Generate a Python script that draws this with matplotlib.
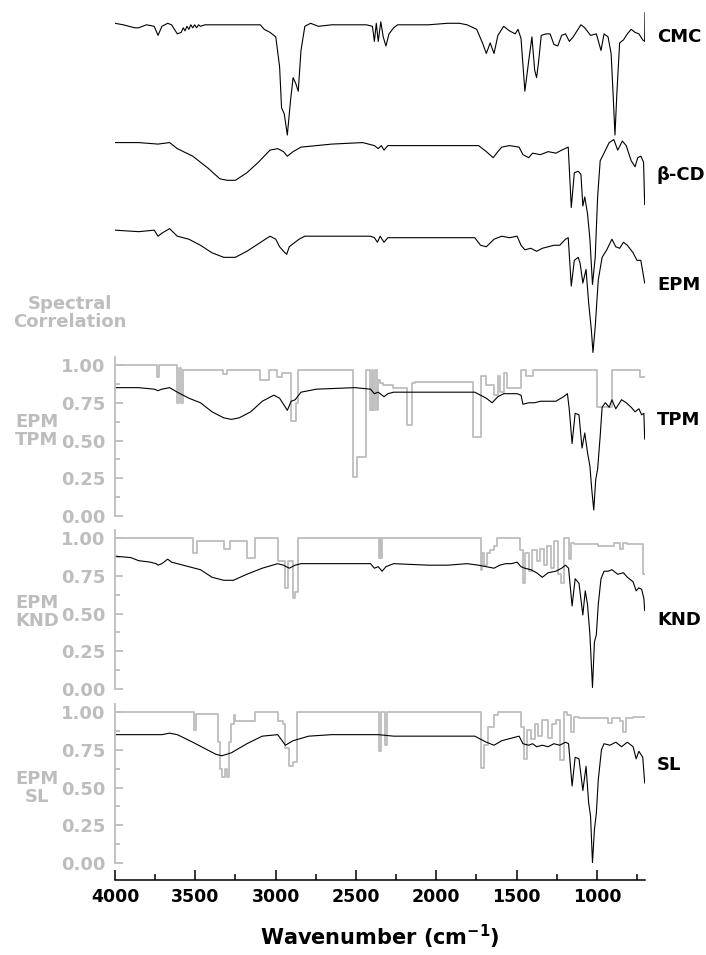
"FTIR spectra of CMC, beta-CD and the EPM/TPM/KND/SL products with spectral correlation traces"

import numpy as np
import matplotlib.pyplot as plt
from matplotlib.ticker import MultipleLocator, FormatStrFormatter

plt.rcParams['font.family'] = ['DejaVu Sans']
plt.rcParams['font.weight'] = 'bold'
plt.rcParams['mathtext.default'] = 'bf'

GREY = '#bdbdbd'

# ---- reference spectra (wavenumber cm-1, normalised transmittance) ----
cmc_wn = [4000, 3949, 3877, 3853, 3804, 3756, 3732, 3708, 3672, 3648, 3612, 3588, 3575,
          3564, 3552, 3540, 3528, 3516, 3504, 3492, 3480, 3468, 3440, 3371, 3095, 3071,
          3035, 2999, 2975, 2963, 2946, 2927, 2907, 2891, 2874, 2859, 2842, 2818, 2782,
          2734, 2650, 2434, 2397, 2385, 2373, 2361, 2345, 2330, 2313, 2294, 2265, 2241,
          2049, 1929, 1856, 1808, 1748, 1712, 1688, 1664, 1640, 1616, 1580, 1544, 1508,
          1491, 1472, 1448, 1423, 1404, 1387, 1375, 1363, 1346, 1315, 1291, 1267, 1243,
          1219, 1195, 1171, 1147, 1099, 1075, 1039, 1003, 974, 955, 930, 911, 899, 887,
          875, 858, 834, 810, 786, 762, 738, 714, 702, 700]
cmc_t = [0.86, 0.85, 0.83, 0.83, 0.85, 0.84, 0.78, 0.84, 0.86, 0.85, 0.79, 0.80, 0.83,
         0.81, 0.84, 0.82, 0.85, 0.83, 0.85, 0.83, 0.85, 0.84, 0.85, 0.85, 0.85, 0.82,
         0.80, 0.77, 0.57, 0.30, 0.26, 0.12, 0.35, 0.50, 0.46, 0.41, 0.68, 0.84, 0.86,
         0.84, 0.85, 0.85, 0.84, 0.74, 0.86, 0.74, 0.87, 0.77, 0.71, 0.79, 0.83, 0.85,
         0.85, 0.86, 0.86, 0.85, 0.82, 0.73, 0.66, 0.73, 0.66, 0.78, 0.84, 0.81, 0.79,
         0.82, 0.76, 0.41, 0.62, 0.77, 0.55, 0.50, 0.60, 0.78, 0.79, 0.79, 0.72, 0.71,
         0.78, 0.79, 0.74, 0.77, 0.85, 0.83, 0.78, 0.79, 0.68, 0.79, 0.77, 0.66, 0.40,
         0.12, 0.40, 0.73, 0.75, 0.79, 0.82, 0.80, 0.79, 0.75, 0.74, 0.93]

bcd_wn = [4000, 3853, 3732, 3660, 3612, 3516, 3420, 3347, 3299, 3251, 3179, 3107, 3035,
          2987, 2951, 2927, 2891, 2842, 2746, 2650, 2458, 2385, 2361, 2342, 2325, 2301,
          2265, 2049, 1736, 1688, 1645, 1616, 1592, 1544, 1484, 1460, 1424, 1400, 1351,
          1303, 1255, 1219, 1178, 1159, 1140, 1116, 1099, 1087, 1075, 1058, 1043, 1027,
          1010, 995, 979, 955, 923, 894, 870, 841, 817, 786, 762, 745, 726, 709, 702]
bcd_t = [0.97, 0.97, 0.96, 0.97, 0.93, 0.88, 0.80, 0.73, 0.72, 0.72, 0.77, 0.84, 0.92,
         0.93, 0.91, 0.88, 0.91, 0.94, 0.95, 0.96, 0.97, 0.95, 0.93, 0.95, 0.92, 0.95,
         0.95, 0.95, 0.95, 0.91, 0.87, 0.91, 0.94, 0.95, 0.94, 0.89, 0.87, 0.90, 0.89,
         0.91, 0.90, 0.92, 0.94, 0.54, 0.77, 0.78, 0.76, 0.55, 0.61, 0.50, 0.33, 0.03,
         0.21, 0.61, 0.85, 0.90, 0.97, 0.99, 0.92, 0.98, 0.95, 0.85, 0.81, 0.87, 0.88,
         0.84, 0.56]

epm_wn = [4000, 3853, 3756, 3732, 3708, 3660, 3612, 3540, 3468, 3396, 3323, 3251, 3179,
          3107, 3035, 2999, 2975, 2951, 2931, 2915, 2891, 2854, 2818, 2722, 2409, 2385,
          2366, 2349, 2325, 2301, 2265, 2049, 1760, 1724, 1688, 1640, 1592, 1544, 1496,
          1472, 1448, 1411, 1375, 1339, 1303, 1267, 1231, 1195, 1178, 1159, 1140, 1116,
          1104, 1087, 1067, 1051, 1034, 1024, 1010, 991, 967, 938, 906, 882, 858, 834,
          810, 774, 750, 726, 702]
epm_t = [0.84, 0.83, 0.84, 0.80, 0.82, 0.85, 0.80, 0.78, 0.74, 0.69, 0.66, 0.66, 0.70,
         0.75, 0.80, 0.78, 0.73, 0.70, 0.68, 0.73, 0.75, 0.78, 0.80, 0.80, 0.80, 0.79,
         0.76, 0.80, 0.76, 0.79, 0.79, 0.79, 0.79, 0.74, 0.73, 0.78, 0.80, 0.79, 0.80,
         0.74, 0.71, 0.72, 0.70, 0.72, 0.73, 0.74, 0.74, 0.78, 0.79, 0.47, 0.64, 0.66,
         0.62, 0.49, 0.58, 0.36, 0.18, 0.03, 0.20, 0.51, 0.66, 0.71, 0.78, 0.73, 0.72,
         0.76, 0.74, 0.69, 0.64, 0.64, 0.49]

# ---- product spectra ----
tpm_wn = [4000, 3853, 3756, 3732, 3708, 3660, 3612, 3540, 3468, 3396, 3323, 3275, 3227,
          3155, 3083, 3011, 2975, 2927, 2903, 2878, 2842, 2746, 2506, 2409, 2385, 2361,
          2325, 2301, 2265, 1929, 1760, 1724, 1688, 1652, 1616, 1580, 1496, 1472, 1460,
          1424, 1387, 1351, 1303, 1255, 1207, 1183, 1171, 1154, 1135, 1111, 1092, 1075,
          1058, 1043, 1031, 1019, 1007, 995, 979, 967, 947, 923, 906, 882, 846, 817,
          786, 762, 738, 721, 707, 702]
tpm_t = [0.85, 0.85, 0.84, 0.83, 0.84, 0.85, 0.82, 0.78, 0.75, 0.69, 0.65, 0.64, 0.65,
         0.69, 0.76, 0.80, 0.78, 0.70, 0.76, 0.77, 0.82, 0.84, 0.85, 0.84, 0.81, 0.82,
         0.79, 0.81, 0.82, 0.82, 0.82, 0.80, 0.78, 0.75, 0.79, 0.81, 0.81, 0.80, 0.74,
         0.75, 0.75, 0.76, 0.76, 0.76, 0.79, 0.81, 0.70, 0.48, 0.68, 0.67, 0.45, 0.55,
         0.42, 0.33, 0.17, 0.04, 0.24, 0.31, 0.53, 0.72, 0.75, 0.72, 0.77, 0.71, 0.77,
         0.75, 0.72, 0.69, 0.71, 0.67, 0.68, 0.51]

knd_wn = [4000, 3901, 3853, 3780, 3744, 3732, 3708, 3672, 3648, 3612, 3540, 3468, 3396,
          3323, 3263, 3179, 3083, 2987, 2951, 2915, 2878, 2842, 2746, 2409, 2385, 2361,
          2337, 2313, 2265, 2049, 1929, 1808, 1736, 1688, 1640, 1604, 1568, 1532, 1496,
          1472, 1448, 1411, 1375, 1339, 1303, 1255, 1219, 1195, 1176, 1154, 1135, 1111,
          1087, 1072, 1058, 1043, 1027, 1015, 1003, 991, 974, 955, 930, 906, 870, 834,
          810, 774, 755, 738, 721, 707, 702]
knd_t = [0.88, 0.87, 0.85, 0.84, 0.83, 0.82, 0.83, 0.86, 0.84, 0.83, 0.81, 0.79, 0.74,
         0.72, 0.72, 0.76, 0.80, 0.83, 0.82, 0.80, 0.82, 0.83, 0.83, 0.83, 0.80, 0.81,
         0.78, 0.81, 0.83, 0.82, 0.82, 0.83, 0.82, 0.81, 0.80, 0.82, 0.83, 0.83, 0.84,
         0.81, 0.80, 0.79, 0.77, 0.74, 0.77, 0.78, 0.80, 0.82, 0.80, 0.55, 0.73, 0.70,
         0.49, 0.65, 0.56, 0.36, 0.01, 0.31, 0.36, 0.56, 0.73, 0.78, 0.78, 0.79, 0.76,
         0.77, 0.74, 0.71, 0.65, 0.67, 0.66, 0.60, 0.52]

sl_wn = [4000, 3853, 3708, 3660, 3612, 3516, 3444, 3372, 3335, 3275, 3179, 3083, 2987,
         2939, 2891, 2794, 2650, 2409, 2361, 2265, 1929, 1760, 1688, 1640, 1592, 1520,
         1484, 1460, 1424, 1400, 1375, 1339, 1303, 1267, 1231, 1195, 1176, 1154, 1135,
         1111, 1087, 1067, 1051, 1039, 1027, 1015, 1003, 991, 971, 955, 918, 882, 846,
         810, 774, 755, 738, 714, 702]
sl_t = [0.85, 0.85, 0.85, 0.86, 0.85, 0.80, 0.76, 0.72, 0.71, 0.73, 0.79, 0.84, 0.85,
        0.78, 0.81, 0.84, 0.85, 0.85, 0.85, 0.84, 0.84, 0.84, 0.80, 0.78, 0.81, 0.83,
        0.84, 0.79, 0.78, 0.79, 0.77, 0.78, 0.77, 0.79, 0.78, 0.80, 0.79, 0.51, 0.70,
        0.69, 0.48, 0.64, 0.40, 0.31, 0.00, 0.22, 0.33, 0.55, 0.75, 0.79, 0.78, 0.80,
        0.77, 0.80, 0.77, 0.69, 0.74, 0.70, 0.53]

# ---- spectral correlation with EPM (step traces) ----
corr_tpm_wn = [4000, 3740, 3725, 3612, 3600, 3590, 3577, 3325, 3300, 3100, 3040, 2990,
               2960, 2905, 2875, 2860, 2520, 2494, 2438, 2410, 2400, 2395, 2380, 2370,
               2360, 2350, 2330, 2270, 2185, 2150, 2130, 1772, 1724, 1690, 1640, 1615,
               1600, 1580, 1560, 1470, 1440, 1400, 1350, 1300, 1230, 1150, 1000, 906,
               730, 702]
corr_tpm = [1.00, 0.92, 1.00, 0.75, 0.98, 0.75, 0.97, 0.94, 0.97, 0.90, 0.97, 0.92,
            0.95, 0.63, 0.75, 0.97, 0.26, 0.39, 0.97, 0.70, 0.97, 0.70, 0.97, 0.70,
            0.90, 0.88, 0.87, 0.85, 0.60, 0.88, 0.89, 0.52, 0.93, 0.87, 0.80, 0.93,
            0.82, 0.95, 0.85, 0.97, 0.93, 0.97, 0.97, 0.97, 0.97, 0.97, 0.72, 0.97,
            0.92, 0.92]

corr_knd_wn = [4000, 3516, 3492, 3323, 3287, 3179, 3131, 2982, 2943, 2922, 2891, 2878,
               2862, 2357, 2349, 2342, 2335, 1724, 1712, 1700, 1681, 1664, 1640, 1621,
               1476, 1460, 1448, 1424, 1404, 1375, 1351, 1327, 1308, 1284, 1267, 1243,
               1226, 1207, 1176, 1159, 1140, 991, 894, 858, 834, 810, 714, 702]
corr_knd = [1.00, 0.90, 0.98, 0.93, 0.98, 0.87, 1.00, 0.85, 0.67, 0.85, 0.60, 0.64,
            1.00, 0.87, 1.00, 0.87, 1.00, 0.79, 0.90, 0.82, 0.90, 0.92, 0.95, 1.00,
            0.92, 0.70, 0.90, 0.78, 0.92, 0.85, 0.93, 0.82, 0.95, 0.80, 0.98, 0.76,
            0.70, 1.00, 0.86, 0.97, 0.96, 0.95, 0.97, 0.93, 0.97, 0.96, 0.76, 0.76]

corr_sl_wn = [4000, 3509, 3497, 3371, 3359, 3347, 3335, 3318, 3304, 3290, 3278, 3261,
              3250, 3190, 3131, 2982, 2951, 2939, 2915, 2891, 2867, 2357, 2342, 2318,
              2308, 1724, 1700, 1676, 1640, 1616, 1472, 1455, 1436, 1412, 1388, 1364,
              1339, 1303, 1279, 1255, 1231, 1207, 1183, 1159, 1140, 1111, 991, 930, 906,
              858, 834, 817, 774, 702]
corr_sl = [1.00, 0.88, 0.99, 0.985, 0.80, 0.62, 0.57, 0.62, 0.57, 0.80, 0.92, 0.98,
           0.94, 0.94, 1.00, 0.94, 0.92, 0.76, 0.64, 0.67, 1.00, 0.74, 1.00, 0.78,
           1.00, 0.63, 0.78, 0.90, 0.98, 1.00, 0.90, 0.69, 0.88, 0.82, 0.92, 0.84,
           0.95, 0.83, 0.92, 0.95, 0.68, 1.00, 0.98, 0.87, 0.97, 0.96, 0.96, 0.93,
           0.96, 0.94, 0.87, 0.96, 0.97, 0.97]

top_names = ['CMC', 'β-CD', 'EPM']
top_spectra = [(cmc_wn, cmc_t), (bcd_wn, bcd_t), (epm_wn, epm_t)]
top_offsets = [1.35, 0.45, 0.0]

panel_names = ['TPM', 'KND', 'SL']
panel_spectra = [(tpm_wn, tpm_t), (knd_wn, knd_t), (sl_wn, sl_t)]
panel_corr = [(corr_tpm_wn, corr_tpm), (corr_knd_wn, corr_knd), (corr_sl_wn, corr_sl)]

W, H = 706, 955
fig = plt.figure(figsize=(W / 100, H / 100), dpi=100)

def fx(px):
    return px / W

def fy(py):
    return 1 - py / H

left, width = fx(115), (645 - 115) / W
unit = 151  # pixels per correlation unit

# stacked reference spectra
ax_top = fig.add_axes([left, fy(357), width, 357 / H])
for (wn, t), off in zip(top_spectra, top_offsets):
    ax_top.plot(wn, np.array(t) + off, color='black', lw=0.8)
ax_top.set_xlim(4000, 700)
ax_top.set_ylim(0, 357 / unit)
ax_top.axis('off')

label_y = [37, 175, 285, 420, 620, 765]
for name, y in zip(top_names + panel_names, label_y):
    fig.text(fx(657), fy(y), name, ha='left', va='center', fontsize=13,
             fontweight='bold', color='black')

# correlation panels with product spectra
zero_rows = [516, 689, 863]
axes = []
for i, zr in enumerate(zero_rows):
    ax = fig.add_axes([left, fy(zr), width, 1.055 * unit / H])
    cw, cv = panel_corr[i]
    ax.step(cw, cv, where='post', color=GREY, lw=1.3)
    sw, st = panel_spectra[i]
    ax.plot(sw, st, color='black', lw=0.8)
    ax.set_xlim(4000, 700)
    ax.set_ylim(0, 1.055)
    for s in ['top', 'right']:
        ax.spines[s].set_visible(False)
    ax.spines['left'].set_color(GREY)
    ax.spines['left'].set_linewidth(1.3)
    ax.yaxis.set_major_locator(MultipleLocator(0.25))
    ax.yaxis.set_minor_locator(MultipleLocator(0.125))
    ax.yaxis.set_major_formatter(FormatStrFormatter('%.2f'))
    ax.tick_params(axis='y', which='both', direction='in', colors=GREY,
                   labelsize=13, width=1.3, pad=7)
    ax.tick_params(axis='y', which='major', length=6)
    ax.tick_params(axis='y', which='minor', length=3.5)
    for lab in ax.get_yticklabels():
        lab.set_fontweight('bold')
    ax.patch.set_alpha(0)
    axes.append(ax)

for ax in axes[:-1]:
    ax.spines['bottom'].set_visible(False)
    ax.set_xticks([])

# shared wavenumber axis below the last panel
axb = axes[-1]
axb.spines['bottom'].set_position(('outward', 12.2))
axb.spines['bottom'].set_linewidth(1.1)
axb.xaxis.set_major_locator(MultipleLocator(500))
axb.xaxis.set_minor_locator(MultipleLocator(250))
axb.tick_params(axis='x', which='both', direction='in', colors='black',
                labelsize=12.5, width=1.1, pad=6)
axb.tick_params(axis='x', which='major', length=7)
axb.tick_params(axis='x', which='minor', length=4)
for lab in axb.get_xticklabels():
    lab.set_fontweight('bold')
axb.set_xlabel('Wavenumber (cm$^{-1}$)', fontsize=15, fontweight='bold', labelpad=12)

# panel titles
fig.text(fx(70), fy(313), 'Spectral\nCorrelation', ha='center', va='center',
         fontsize=13, fontweight='bold', color=GREY, linespacing=1.05)
for name, y in zip(panel_names, [431, 612, 788]):
    fig.text(fx(37), fy(y), 'EPM\n' + name, ha='center', va='center',
             fontsize=13, fontweight='bold', color=GREY, linespacing=1.05)

fig.savefig('out.png', dpi=100)
